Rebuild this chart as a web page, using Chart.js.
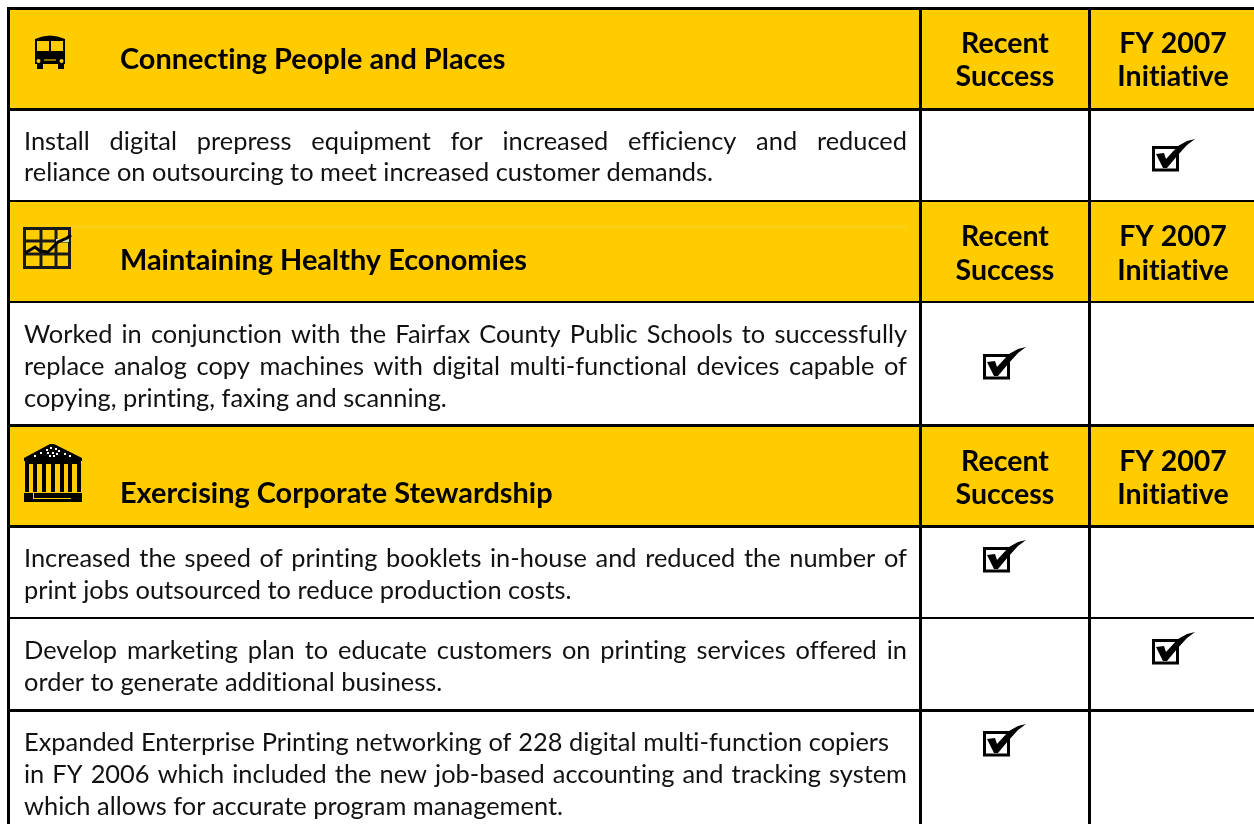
<!DOCTYPE html>
<html>
<head>
<meta charset="utf-8">
<title>Printing services objectives</title>
<script src="https://cdn.jsdelivr.net/npm/chart.js@4/dist/chart.umd.min.js"></script>
<style>
html,body{margin:0;padding:0;background:#fff;overflow:hidden;}
#wrap{position:relative;width:1254px;height:824px;}
</style>
</head>
<body>
<div id="wrap"><canvas id="table" role="img" aria-label="Table of objectives with recent successes and FY 2007 initiatives"></canvas></div>
<script>
// table geometry
const rowEdges = [8, 109, 201, 302, 425, 526, 618, 710, 824];
const rowKinds = ["head", "body", "head", "body", "head", "body", "body", "body"];
const ruleWidths = [3, 3, 2, 2, 3, 3, 2, 3];
const columnEdges = [8.5, 920.5, 1089];
const columnWidths = [3, 3, 3];
const GOLD = "#FFCC00";

// header rows
const headTitles = ["Connecting People and Places", "Maintaining Healthy Economies", "Exercising Corporate Stewardship"];
const headBaselines = [69, 270, 503];
const headLine1 = [53, 246, 471];
const headLine2 = [86, 280, 504];
const recentLabel = ["Recent", "Success"];
const initiativeLabel = ["FY 2007", "Initiative"];

// body rows
const bodyLines = [
  ["Install digital prepress equipment for increased efficiency and reduced", "reliance on outsourcing to meet increased customer demands."],
  ["Worked in conjunction with the Fairfax County Public Schools to successfully", "replace analog copy machines with digital multi-functional devices capable of", "copying, printing, faxing and scanning."],
  ["Increased the speed of printing booklets in-house and reduced the number of", "print jobs outsourced to reduce production costs."],
  ["Develop marketing plan to educate customers on printing services offered in", "order to generate additional business."],
  ["Expanded Enterprise Printing networking of 228 digital multi-function copiers", "in FY 2006 which included the new job-based accounting and tracking system", "which allows for accurate program management."]
];
const bodyBaselines = [[150, 181], [343, 375, 407], [567, 599], [659, 691], [751, 783, 815]];
// where a spread line ends, 0 for lines left at natural width
const bodyLineEnds = [[907, 0], [907, 907, 0], [907, 0], [907, 0], [889, 907, 0]];

// check marks per body row
const recentChecks = [0, 1, 1, 0, 1];
const initiativeChecks = [1, 0, 0, 1, 0];
const checkY = [155, 363, 556, 648, 740];
const recentCheckX = 1005;
const initiativeCheckX = 1174;

// faint scan line in the second header
const faintX = [72, 907];
const faintY = [227, 227];

// icons
const iconX = [50, 47, 52];
const iconY = [52, 248, 473];

function sprite(w, h, draw){
  const c = document.createElement("canvas");
  c.width = w; c.height = h;
  draw(c.getContext("2d"));
  return c;
}

const checkIcon = sprite(46, 36, g => {
  g.strokeStyle = "#000"; g.lineWidth = 3;
  g.strokeRect(2.5, 10.5, 24, 22.5);
  g.fillStyle = "#000";
  g.beginPath();
  g.moveTo(5, 17); g.lineTo(13, 16); g.lineTo(15, 22);
  g.lineTo(27, 9); g.lineTo(36, 4); g.lineTo(44, 2);
  g.lineTo(36, 8); g.lineTo(26, 19); g.lineTo(16, 31); g.lineTo(12, 31);
  g.closePath(); g.fill();
});

const busIcon = sprite(32, 36, g => {
  g.fillStyle = "#000";
  g.beginPath();
  g.moveTo(1, 5); g.quadraticCurveTo(16, -2, 31, 5);
  g.lineTo(31, 30); g.lineTo(1, 30); g.closePath(); g.fill();
  g.fillRect(3, 29, 6, 6); g.fillRect(24, 29, 6, 6);
  g.fillStyle = GOLD;
  g.fillRect(3, 7, 12, 10); g.fillRect(17, 7, 12, 10);
  g.beginPath(); g.arc(4.5, 27, 2, 0, 7); g.fill();
  g.beginPath(); g.arc(27.5, 27, 2, 0, 7); g.fill();
  g.fillStyle = "#8a6f00"; g.fillRect(10, 25, 12, 2);
});

const growthIcon = sprite(50, 44, g => {
  g.fillStyle = GOLD; g.fillRect(0, 0, 50, 44);
  g.strokeStyle = "#1a1a1a"; g.lineWidth = 3;
  g.strokeRect(2.5, 2.5, 45, 39);
  g.beginPath();
  [19, 34].forEach(x => { g.moveTo(x, 1); g.lineTo(x, 42); });
  [15, 28].forEach(y => { g.moveTo(1, y); g.lineTo(49, y); });
  g.stroke();
  g.fillStyle = "#d8d8c8"; g.fillRect(34, 13, 13, 3);
  g.strokeStyle = "#000"; g.lineWidth = 3;
  g.beginPath();
  g.moveTo(3, 27); g.lineTo(13, 21); g.lineTo(18, 25); g.lineTo(26, 26);
  g.lineTo(36, 16); g.lineTo(45, 12); g.lineTo(49, 9);
  g.stroke();
});

const templeIcon = sprite(60, 60, g => {
  g.fillStyle = "#000";
  g.beginPath(); g.moveTo(2, 15); g.lineTo(28, 1); g.lineTo(32, 1); g.lineTo(60, 15); g.closePath(); g.fill();
  g.fillStyle = "#fff";
  [[24,6],[28,4],[33,5],[36,7],[18,9],[42,10],[12,12],[47,12],[25,9],[30,9],[34,10],[27,12],[31,12]].forEach(p => g.fillRect(p[0], p[1], 2, 2));
  g.fillStyle = "#000";
  g.fillRect(2, 15, 58, 3);
  g.fillRect(3, 18, 56, 3);
  [3, 11, 20, 29, 38, 46, 55].forEach(x => g.fillRect(x, 20, 4, 29));
  g.fillRect(2, 50, 58, 7);
  g.fillRect(2, 57, 58, 2);
  g.fillStyle = GOLD;
  g.fillRect(11, 50, 1, 6);
  g.fillRect(11, 55, 38, 1);
});

// rule positions for the axis grid lines, skipping the open bottom edge
const rulePositions = rowEdges.slice(0, -1);

const bands = rowKinds.map((kind, i) => ({
  type: "bar",
  label: "row " + (i + 1),
  data: [[rowEdges[i], rowEdges[i + 1]]],
  backgroundColor: kind === "head" ? GOLD : "#fff",
  barPercentage: 1,
  categoryPercentage: 1,
  grouped: false,
  xAxisID: "x",
  yAxisID: "y",
  order: 5
}));

const checkPoints = [];
recentChecks.forEach((on, i) => { if (on) checkPoints.push({x: recentCheckX, y: checkY[i]}); });
initiativeChecks.forEach((on, i) => { if (on) checkPoints.push({x: initiativeCheckX, y: checkY[i]}); });

const pointSet = (label, data, style) => ({
  type: "scatter", label, data, pointStyle: style, pointRadius: 10,
  xAxisID: "xt", yAxisID: "y", order: 1, clip: false
});

const tableText = {
  id: "tableText",
  afterDraw(chart){
    const {ctx, scales} = chart;
    const xs = scales.xt, ys = scales.y;
    ctx.save();
    ctx.textBaseline = "alphabetic";
    ctx.fillStyle = "#000";
    ctx.letterSpacing = "0.01px"; // keeps ti/fi apart, the reference has no ligatures

    ctx.font = "bold 28.9px Lato";
    ctx.textAlign = "left";
    headTitles.forEach((t, i) => ctx.fillText(t, xs.getPixelForValue(120), ys.getPixelForValue(headBaselines[i])));
    ctx.font = "bold 28.5px Lato";
    ctx.textAlign = "center";
    headTitles.forEach((t, i) => {
      [headLine1[i], headLine2[i]].forEach((b, k) => {
        ctx.fillText(recentLabel[k], xs.getPixelForValue(1005), ys.getPixelForValue(b));
        ctx.fillText(initiativeLabel[k], xs.getPixelForValue(1173), ys.getPixelForValue(b));
      });
    });

    ctx.font = "25.4px Lato";
    ctx.fillStyle = "#111";
    ctx.textAlign = "left";
    const left = 24;
    bodyLines.forEach((lines, r) => lines.forEach((line, l) => {
      const y = ys.getPixelForValue(bodyBaselines[r][l]);
      ctx.wordSpacing = "0px";
      if (bodyLineEnds[r][l]) {
        const gaps = line.split(" ").length - 1;
        ctx.wordSpacing = (bodyLineEnds[r][l] - left - ctx.measureText(line).width) / gaps + "px";
      }
      ctx.fillText(line, xs.getPixelForValue(left), y);
    }));
    ctx.wordSpacing = "0px";
    ctx.restore();
  }
};

new Chart(document.getElementById("table").getContext("2d"), {
  data: {
    labels: ["table"],
    datasets: [
      ...bands,
      {
        type: "line", label: "scan line",
        data: faintX.map((x, i) => ({x, y: faintY[i]})),
        borderColor: "#F7D540", borderWidth: 1, pointRadius: 0,
        xAxisID: "xt", yAxisID: "y", order: 2
      },
      pointSet("checks", checkPoints, checkIcon),
      pointSet("bus", [{x: iconX[0], y: iconY[0]}], busIcon),
      pointSet("growth", [{x: iconX[1], y: iconY[1]}], growthIcon),
      pointSet("temple", [{x: iconX[2], y: iconY[2]}], templeIcon)
    ]
  },
  options: {
    responsive: true,
    maintainAspectRatio: false,
    animation: false,
    events: [],
    layout: {autoPadding: false, padding: {left: 8, top: 7, right: 0, bottom: 0}},
    plugins: {legend: {display: false}, tooltip: {enabled: false}},
    scales: {
      x: {display: false},
      xt: {
        type: "linear", position: "bottom", min: 8, max: 1254,
        afterBuildTicks: s => { s.ticks = columnEdges.map(value => ({value})); },
        ticks: {display: false},
        border: {display: false},
        grid: {z: 1, color: "#000", drawTicks: false, lineWidth: c => columnWidths[c.index] || 3}
      },
      y: {
        type: "linear", position: "left", reverse: true, min: 7, max: 824,
        afterBuildTicks: s => { s.ticks = rulePositions.map(value => ({value})); },
        ticks: {display: false},
        border: {display: false},
        grid: {z: 1, color: "#000", drawTicks: false, lineWidth: c => ruleWidths[c.index] || 2}
      }
    }
  },
  plugins: [tableText]
});
</script>
</body>
</html>
